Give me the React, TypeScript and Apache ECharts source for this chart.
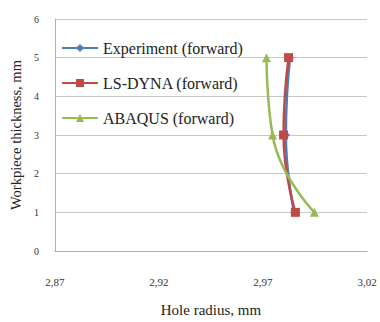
import React, { useEffect, useRef } from "react";
import * as echarts from "echarts";

const thickness = [5, 3, 1];
const experimentRadius = [2.983, 2.981, 2.985];
const lsDynaRadius = [2.9823, 2.9799, 2.9856];
const abaqusRadius = [2.9717, 2.9746, 2.9947];
const seriesNames = ["Experiment (forward)", "LS-DYNA (forward)", "ABAQUS (forward)"];

const pairs = (xs: number[]) => xs.map((x, i) => [x, thickness[i]]);

export default function App() {
  const ref = useRef<HTMLDivElement>(null);
  useEffect(() => {
    if (!ref.current) return;
    const chart = echarts.init(ref.current, undefined, { renderer: "svg" });
    const font = "Liberation Serif";
    chart.setOption({
      animation: false,
      backgroundColor: "#ffffff",
      textStyle: { fontFamily: font },
      grid: { left: 53, right: 13, top: 19, bottom: 63 },
      legend: {
        orient: "vertical",
        left: 56,
        top: 35,
        itemGap: 19,
        itemWidth: 36,
        itemHeight: 10,
        textStyle: { fontFamily: font, fontSize: 16, color: "#222" },
        data: seriesNames,
      },
      xAxis: {
        type: "value",
        min: 2.87,
        max: 3.02,
        interval: 0.05,
        name: "Hole radius, mm",
        nameLocation: "middle",
        nameGap: 51,
        nameTextStyle: { fontFamily: font, fontSize: 15, color: "#222" },
        axisLine: { show: true, lineStyle: { color: "#b0b0b0" } },
        axisTick: { show: false },
        splitLine: { show: false },
        axisLabel: {
          margin: 25,
          fontSize: 11,
          color: "#333",
          formatter: (v: number) => v.toFixed(2).replace(".", ","),
        },
      },
      yAxis: {
        type: "value",
        min: 0,
        max: 6,
        interval: 1,
        name: "Workpiece thickness, mm",
        nameLocation: "middle",
        nameGap: 30,
        nameTextStyle: { fontFamily: font, fontSize: 14.5, color: "#222" },
        axisLine: { show: true, lineStyle: { color: "#b0b0b0" } },
        axisTick: { show: false },
        splitLine: { show: true, lineStyle: { color: "#c8c8c8" } },
        axisLabel: { margin: 16, fontSize: 10, color: "#333" },
      },
      series: [
        {
          name: seriesNames[0],
          type: "line",
          smooth: true,
          data: pairs(experimentRadius),
          symbol: "diamond",
          symbolSize: 8,
          itemStyle: { color: "#4A7EBB" },
          lineStyle: { width: 2.5, color: "#4A7EBB" },
        },
        {
          name: seriesNames[1],
          type: "line",
          smooth: true,
          data: pairs(lsDynaRadius),
          symbol: "rect",
          symbolSize: 9,
          itemStyle: { color: "#BE4B48" },
          lineStyle: { width: 2.5, color: "#BE4B48" },
        },
        {
          name: seriesNames[2],
          type: "line",
          smooth: true,
          data: pairs(abaqusRadius),
          symbol: "triangle",
          symbolSize: 9,
          itemStyle: { color: "#98B954" },
          lineStyle: { width: 2.5, color: "#98B954" },
        },
      ],
    });
    return () => chart.dispose();
  }, []);
  return <div ref={ref} style={{ width: 380, height: 322, position: "absolute", left: 0, top: 0 }} />;
}
